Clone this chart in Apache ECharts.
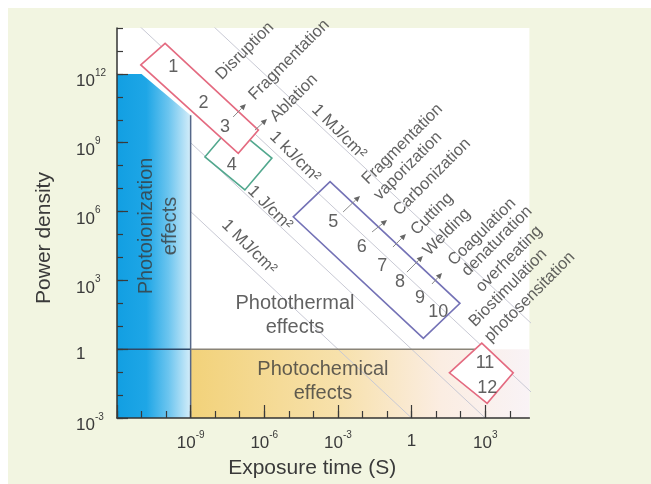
<!DOCTYPE html>
<html><head><meta charset="utf-8">
<script src="https://cdn.jsdelivr.net/npm/echarts@6/dist/echarts.min.js"></script>
<style>
html,body{margin:0;padding:0;background:#fff;}
#wrap{position:relative;width:651px;height:484px;background:#fff;overflow:hidden;}
#panel{position:absolute;left:8px;top:8px;right:0;bottom:0;background:#f2f5e1;}
#chart{position:absolute;left:0;top:0;width:651px;height:484px;}
</style></head><body>
<div id="wrap"><div id="panel"></div><div id="chart"></div></div>
<script>
// ===== values, all in log10 units (x: exposure time in s, y: power density) =====
const xTickValues = [-9, -6, -3, 0, 3];
const yTickValues = [-3, 0, 3, 6, 9, 12];
const xMinorEnd = 4;          // last decade tick on x
const energyLevels = [6, 3, 0, -3];          // log10 of P*t
const energyLabels = ['1 MJ/cm²', '1 kJ/cm²', '1 J/cm²', '1 MJ/cm²'];
const energyLabelPos = [[-2.96, 9.47], [-4.75, 8.38], [-5.77, 6.15], [-6.62, 4.45]];

const photoionization = [[-12, -3], [-12, 12], [-11, 12], [-9, 10.2], [-9, -3]];
const photochemical = [[-9, -3], [-9, 0], [4.8, 0], [4.8, -3]];
const boundaryV = [[-9, -3], [-9, 10.2]];
const boundaryH1 = [[-12, 0], [-9, 0]];
const boundaryH2 = [[-9, 0], [2.58, 0]];

const boxRed = [[-11.03, 12.39], [-10.04, 13.33], [-6.24, 9.55], [-7.06, 8.54]];
const boxGreen = [[-8.42, 8.38], [-7.32, 9.77], [-5.69, 8.33], [-6.79, 6.94]];
const boxPurple = [[-4.82, 5.77], [-3.32, 7.30], [1.97, 2.00], [0.48, 0.47]];
const boxDiamond = [[1.54, -1.03], [2.86, 0.26], [4.14, -1.03], [3.08, -2.36]];

const numberLabels = ['1','2','3','4','5','6','7','8','9','10','11','12'];
const numberPos = [[-9.71,12.31],[-8.48,10.72],[-7.60,9.70],[-7.33,8.03],[-3.19,5.56],[-2.03,4.47],
  [-1.19,3.63],[-0.47,2.94],[0.34,2.22],[1.09,1.63],[2.99,-0.62],[3.08,-1.71]];

const processLabels = ['Disruption','Fragmentation','Ablation','Fragmentation','vaporization','Carbonization',
  'Cutting','Welding','Coagulation','denaturation','overheating','Biostimulation','photosensitation'];
const processPos = [[-6.79,13.0],[-4.99,12.61],[-4.79,10.95],[-0.37,8.94],[-0.15,7.98],[0.83,7.50],
  [0.83,5.89],[1.44,5.11],[2.87,5.11],[3.48,4.71],[3.97,3.93],[3.93,2.67],[4.82,2.27]];

const arrows = [[-7.27,10.12,-6.75,10.69],[-6.38,9.55,-5.89,10.03],[-2.79,5.98,-2.10,6.68],
  [-1.61,5.11,-1.00,5.63],[-0.76,4.45,-0.23,5.02],[-0.19,3.36,0.46,4.06],[0.83,2.84,1.24,3.32]];

const effectLabels = ['Photothermal\neffects', 'Photochemical\neffects', 'Photoionization\neffects'];
const effectPos = [[-4.75, 1.45], [-3.61, -1.43], [-10.33, 5.37]];
const effectRotate = [0, 0, 90];

// ===== layout =====
const X_MIN = -12, X_MAX = 4.8, Y_MIN = -3, Y_MAX = 14;
const PL = 117, PT = 28, PW = 412.4, PH = 390;
const pxX = PW / (X_MAX - X_MIN), pxY = PH / (Y_MAX - Y_MIN);
const xMajEnd = xTickValues[xTickValues.length - 1];
const yMajEnd = yTickValues[yTickValues.length - 1];
const FONT = '"Liberation Sans", Arial, Helvetica, sans-serif';
const TXT = '#3a3a3a';

function supFormatter(ticks) {
  return function (v) {
    const r = Math.round(v);
    if (Math.abs(v - r) > 1e-6 || ticks.indexOf(r) < 0) return '';
    if (r === 0) return '{one|1}';
    return '{b|10}{s|' + (r < 0 ? '-' + (-r) : r) + '}';
  };
}
const tickStyle = {color: '#3a3a3a', width: 1.2};
function tickAxis(gridIndex, min, max, interval, len) {
  return {type: 'value', gridIndex, min, max, interval, z: 10,
    axisLine: {show: false, onZero: false}, axisLabel: {show: false}, splitLine: {show: false},
    axisTick: {show: true, inside: true, length: len, lineStyle: tickStyle}};
}

function polySeries(points, style, z) {
  return {type: 'custom', coordinateSystem: 'cartesian2d', xAxisIndex: 0, yAxisIndex: 0, silent: true, z,
    clip: false, data: [points[0]],
    renderItem: (params, api) => ({type: 'polygon', shape: {points: points.map(p => api.coord(p))}, style})};
}
function lineSeries(data, color, width, z) {
  return {type: 'line', xAxisIndex: 0, yAxisIndex: 0, data, symbol: 'none', silent: true, z, clip: true,
    lineStyle: {color, width}, animation: false};
}

const series = [];
series.push(polySeries(photochemical, {
  fill: new echarts.graphic.LinearGradient(0, 0, 1, 0, [
    {offset: 0, color: '#f2d27a'}, {offset: 0.44, color: '#f7e1ac'},
    {offset: 0.74, color: '#fbede2'}, {offset: 1, color: '#f9f3f6'}])
}, 1));
energyLevels.forEach(c => series.push(lineSeries([[-30, c + 30], [30, c - 30]], '#c8c9d4', 1, 2)));
series.push(polySeries(photoionization, {
  fill: new echarts.graphic.LinearGradient(0, 0, 1, 0, [
    {offset: 0, color: '#129fe2'}, {offset: 0.4, color: '#1ea6e6'},
    {offset: 0.7, color: '#6cc5ef'}, {offset: 1, color: '#d4edf9'}])
}, 3));
series.push(lineSeries(boundaryV, '#56688a', 1.5, 4));
series.push(lineSeries(boundaryH1, '#2f4866', 1.5, 4));
series.push(lineSeries(boundaryH2, '#8a8478', 1.5, 4));
series.push(polySeries(boxGreen, {fill: 'none', stroke: '#52a88e', lineWidth: 1.6}, 5));
series.push(polySeries(boxPurple, {fill: 'none', stroke: '#7472b6', lineWidth: 1.6}, 5));
series.push(polySeries(boxRed, {fill: '#ffffff', stroke: '#e46a80', lineWidth: 1.6}, 6));
series.push(polySeries(boxDiamond, {fill: '#ffffff', stroke: '#e46a80', lineWidth: 1.6}, 6));

series.push({type: 'custom', coordinateSystem: 'cartesian2d', xAxisIndex: 0, yAxisIndex: 0, silent: true, z: 7,
  clip: false, data: arrows, encode: {x: [0, 2], y: [1, 3]},
  renderItem: function (params, api) {
    const p1 = api.coord([api.value(0), api.value(1)]);
    const p2 = api.coord([api.value(2), api.value(3)]);
    const dx = p2[0] - p1[0], dy = p2[1] - p1[1], len = Math.hypot(dx, dy);
    const ux = dx / len, uy = dy / len, hl = 6, hw = 2.8;
    const b = [p2[0] - ux * hl, p2[1] - uy * hl];
    return {type: 'group', children: [
      {type: 'line', shape: {x1: p1[0], y1: p1[1], x2: b[0], y2: b[1]}, style: {stroke: '#8a8a8a', lineWidth: 1}},
      {type: 'polygon', shape: {points: [p2, [b[0] - uy * hw, b[1] + ux * hw], [b[0] + uy * hw, b[1] - ux * hw]]},
        style: {fill: '#666'}}
    ]};
  }});

function textSeries(names, pos, rotate, fontSize, lineHeight, z) {
  return {type: 'scatter', xAxisIndex: 0, yAxisIndex: 0, symbolSize: 0, silent: true, clip: false, z,
    data: names.map((n, i) => ({name: n, value: pos[i],
      label: {rotate: Array.isArray(rotate) ? rotate[i] : rotate}})),
    label: {show: true, position: 'inside', formatter: '{b}', color: TXT, fontFamily: FONT,
      fontSize, lineHeight, align: 'center', verticalAlign: 'middle'},
    labelLayout: {hideOverlap: false}};
}
series.push(textSeries(numberLabels, numberPos, 0, 18, 20, 8));
series.push(textSeries(processLabels, processPos, 45, 16.5, 18, 8));
series.push(textSeries(energyLabels, energyLabelPos, -45, 17, 18, 8));
series.push(textSeries(effectLabels, effectPos, effectRotate, 20, 24, 8));

const chart = echarts.init(document.getElementById('chart'), null, {renderer: 'canvas'});
chart.setOption({
  animation: false,
  backgroundColor: 'transparent',
  grid: [
    {left: PL, top: PT, width: PW, height: PH, show: true, backgroundColor: '#ffffff', borderWidth: 0, outerBoundsMode: 'none'},
    {left: PL, top: PT, width: (xMinorEnd - X_MIN) * pxX, height: PH, outerBoundsMode: 'none'},
    {left: PL, top: PT + (Y_MAX - yMajEnd) * pxY, width: (xMajEnd - X_MIN) * pxX, height: (yMajEnd - Y_MIN) * pxY, outerBoundsMode: 'none'}
  ],
  xAxis: [
    {type: 'value', gridIndex: 0, min: X_MIN, max: X_MAX, interval: 3, z: 10,
      axisLine: {show: true, onZero: false, lineStyle: {color: '#333', width: 1.5}},
      axisTick: {show: false}, splitLine: {show: false},
      axisLabel: {show: true, margin: 12, formatter: supFormatter(xTickValues), fontFamily: FONT, color: TXT,
        showMinLabel: true, showMaxLabel: true, hideOverlap: false,
        rich: {b: {fontSize: 17, lineHeight: 22, verticalAlign: 'bottom', fontFamily: FONT, color: TXT},
               s: {fontSize: 10, lineHeight: 8, verticalAlign: 'top', fontFamily: FONT, color: TXT},
               one: {fontSize: 17, lineHeight: 22, fontFamily: FONT, color: TXT}}},
      name: 'Exposure time (S)', nameLocation: 'middle', nameGap: 40, nameMoveOverlap: false,
      nameTextStyle: {fontSize: 21, fontFamily: FONT, color: TXT, padding: [0, 22, 0, 0]}},
    tickAxis(1, X_MIN, xMinorEnd, 1, 7),
    tickAxis(2, X_MIN, xMajEnd, 3, 13)
  ],
  yAxis: [
    {type: 'value', gridIndex: 0, min: Y_MIN, max: Y_MAX, interval: 3, z: 10,
      axisLine: {show: true, onZero: false, lineStyle: {color: '#333', width: 1.5}},
      axisTick: {show: false}, splitLine: {show: false},
      axisLabel: {show: true, margin: 41, align: 'left', padding: [10, 0, 0, 0],
        formatter: supFormatter(yTickValues), fontFamily: FONT, color: TXT,
        showMinLabel: true, showMaxLabel: true, hideOverlap: false,
        rich: {b: {fontSize: 17, lineHeight: 22, verticalAlign: 'bottom', fontFamily: FONT, color: TXT},
               s: {fontSize: 10, lineHeight: 8, verticalAlign: 'top', fontFamily: FONT, color: TXT},
               one: {fontSize: 17, lineHeight: 14, fontFamily: FONT, color: TXT}}},
      name: 'Power density', nameLocation: 'middle', nameGap: 62, nameMoveOverlap: false,
      nameTextStyle: {fontSize: 21, fontFamily: FONT, color: TXT, padding: [0, 30, 0, 0]}},
    tickAxis(1, Y_MIN, Y_MAX, 1, 6),
    tickAxis(2, Y_MIN, yMajEnd, 3, 11)
  ],
  series
});
</script>
</body></html>
